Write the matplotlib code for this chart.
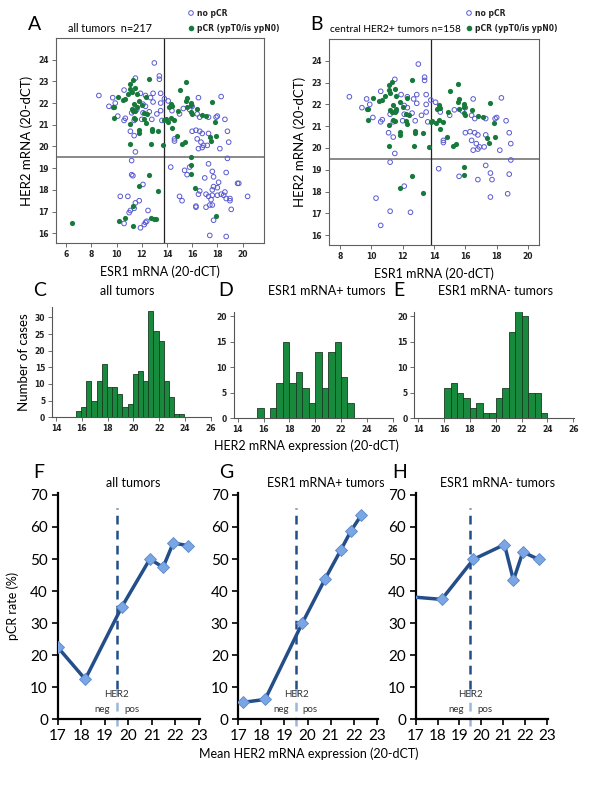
import matplotlib
matplotlib.use('Agg')
import matplotlib.pyplot as plt
import numpy as np

# ---------------- data ----------------
# scatter A/B : upper half (HER2 > 19.5) shared by both panels
up_open_x = [13.0, 13.4, 13.4, 11.5, 8.6, 9.7, 10.6, 9.4, 9.9, 10.1, 10.7, 10.6, 11.2, 12.3, 12.9, 12.7,
             11.9, 12.9, 13.5, 13.8, 14.1, 13.5, 13.5, 12.6, 12.1, 12.3, 12.1, 11.6, 12.0, 11.4, 12.8, 13.6,
             11.1, 11.4, 11.5, 13.2, 14.4, 15.0, 15.3, 15.8, 14.6, 14.6, 16.0, 16.5, 16.4, 16.6, 16.0, 16.3,
             16.6, 16.8, 16.4, 16.7, 16.9, 16.8, 16.5, 17.3, 17.9, 18.0, 18.3, 17.3, 18.6, 18.8, 18.9, 18.2, 17.2]
up_open_y = [23.85, 23.25, 23.1, 23.15, 22.35, 22.25, 22.6, 21.85, 22.0, 21.4, 21.3, 21.2, 21.55, 22.35, 22.45, 22.25,
             22.45, 22.05, 22.45, 22.2, 22.1, 21.65, 22.0, 21.6, 21.55, 21.85, 21.95, 21.7, 21.25, 21.2, 21.25, 21.2,
             20.7, 20.5, 19.75, 21.5, 21.65, 21.5, 21.75, 21.7, 20.35, 20.25, 21.85, 22.25, 21.5, 21.35, 20.7, 20.75,
             20.7, 20.6, 20.35, 20.2, 20.05, 19.95, 19.9, 21.35, 21.35, 21.4, 22.3, 20.6, 21.25, 20.7, 20.2, 19.9, 20.05]
up_fill_x = [12.6, 15.5, 11.3, 11.1, 11.1, 11.5, 11.2, 10.9, 10.7, 10.5, 10.1, 11.6, 12.3, 11.8, 12.0, 11.4,
             9.8, 9.7, 9.8, 11.3, 11.5, 11.6, 11.2, 12.2, 12.4, 11.4, 11.5, 12.2, 12.3, 11.1, 11.8, 11.8,
             12.8, 12.8, 13.3, 11.1, 12.7, 13.7, 13.9, 13.8, 14.3, 14.1, 14.6, 14.3, 14.4, 14.2, 15.0, 15.5,
             15.6, 15.9, 15.9, 15.6, 16.0, 15.9, 16.4, 14.9, 14.4, 15.2, 15.4, 14.8, 16.8, 17.1, 17.6, 17.8,
             17.4, 17.5, 17.9]
up_fill_y = [23.1, 22.95, 23.05, 22.9, 22.65, 22.7, 22.5, 22.4, 22.2, 22.15, 22.3, 22.4, 22.3, 22.1, 21.9, 21.95,
             21.8, 21.8, 21.3, 21.65, 21.65, 21.8, 21.75, 21.55, 21.5, 21.3, 21.25, 21.25, 21.1, 21.05, 20.75, 20.6,
             20.8, 20.7, 20.7, 20.1, 20.1, 20.05, 21.25, 21.2, 21.3, 21.15, 21.2, 21.95, 21.85, 21.8, 22.6, 22.1,
             22.25, 22.0, 21.9, 21.8, 21.5, 21.6, 21.75, 21.65, 20.85, 20.1, 20.2, 20.5, 21.45, 21.4, 22.05, 21.15,
             20.45, 20.25, 20.5]

# lower half, panel A
a_low_open_x = [11.2, 11.2, 11.3, 12.1, 10.3, 10.9, 11.8, 11.5, 11.1, 11.0, 11.4, 12.5, 10.6, 11.9, 12.2, 12.3,
                12.4, 14.3, 15.4, 15.6, 15.8, 17.3, 17.6, 17.0, 17.7, 18.8, 18.7, 18.1, 18.0, 17.6, 17.7, 16.6,
                16.5, 17.1, 17.3, 17.6, 18.0, 17.5, 17.1, 17.4, 17.6, 18.6, 18.5, 18.7, 19.0, 19.0, 19.7, 19.6,
                20.4, 19.1, 18.3, 15.0, 15.2, 16.3, 16.3, 17.7, 17.4, 18.7]
a_low_open_y = [19.35, 18.7, 18.65, 18.25, 17.7, 17.7, 17.5, 17.4, 17.05, 16.95, 17.15, 17.05, 16.45, 16.25, 16.4, 16.5,
                16.55, 19.05, 18.9, 18.7, 19.05, 19.2, 18.85, 18.55, 18.6, 19.45, 18.8, 18.35, 18.1, 18.0, 18.15, 17.95,
                17.8, 17.8, 17.7, 17.75, 17.75, 17.55, 17.2, 17.3, 17.3, 17.9, 17.75, 17.6, 17.5, 17.6, 18.3, 18.3,
                17.7, 17.1, 17.8, 17.7, 17.5, 17.2, 17.25, 16.6, 15.9, 15.85]
a_low_fill_x = [15.9, 15.9, 15.9, 16.2, 17.9, 12.6, 11.8, 13.3, 11.3, 6.5, 10.2, 10.7, 11.3, 12.7, 13.0, 13.1]
a_low_fill_y = [19.5, 19.15, 18.75, 18.1, 16.8, 18.7, 18.2, 17.95, 17.25, 16.45, 16.55, 16.7, 16.35, 16.7, 16.65, 16.65]

# lower half, panel B
b_low_open_x = [11.2, 10.3, 11.2, 12.5, 10.6, 12.1, 14.3, 15.6, 16.8, 17.3, 17.6, 17.7, 18.9, 18.8, 18.7, 17.6]
b_low_open_y = [19.35, 17.7, 17.1, 17.05, 16.45, 18.25, 19.05, 18.7, 18.55, 19.2, 18.85, 18.55, 19.45, 18.8, 17.9, 17.75]
b_low_fill_x = [15.9, 15.9, 12.6, 11.8, 13.3]
b_low_fill_y = [19.15, 18.75, 18.7, 18.15, 17.95]

# histograms
c_start, c_width = 15.55, 0.4
c_counts = [2, 3, 11, 5, 11, 16, 9, 9, 7, 3, 4, 13, 14, 11, 32, 26, 23, 11, 6, 1, 1]
d_start, d_width = 15.5, 0.5
d_counts = [2, 0, 2, 7, 15, 7, 9, 6, 3, 13, 6, 13, 15, 8, 3]
e_start, e_width = 16.0, 0.5
e_counts = [6, 7, 5, 4, 2, 3, 1, 1, 4, 6, 17, 21, 20, 5, 5, 1]

# pCR rate by mean HER2
f_x = [17.0, 18.17, 19.72, 20.92, 21.48, 21.91, 22.52]
f_y = [22.5, 12.5, 35.0, 50.0, 47.4, 55.0, 54.2]
g_x = [17.22, 18.16, 19.77, 20.76, 21.44, 21.88, 22.32]
g_y = [5.3, 6.2, 30.0, 43.8, 52.8, 58.8, 63.6]
h_x = [16.8, 18.19, 19.64, 21.06, 21.47, 21.9, 22.62]
h_y = [38.2, 37.4, 49.9, 54.5, 43.4, 52.2, 49.9]

W, H = 600, 789
fig = plt.figure(figsize=(6.0, 7.89), dpi=100)
plt.rcParams['font.family'] = ['Lato', 'DejaVu Sans']


def box(l, t, r, b):
    return [l / W, 1 - b / H, (r - l) / W, (b - t) / H]


def ftext(px, py, s, **kw):
    fig.text(px / W, 1 - py / H, s, **kw)


open_c = '#5a5ad2'
fill_c = '#177a3c'
spss_tick = dict(fontsize=5.5, fontweight='bold', family='DejaVu Sans', color='#222222')


def scatter_panel(rect, ox, oy, fx_, fy_, xticks, xlim, lab_x):
    ax = fig.add_axes(rect)
    ax.scatter(ox, oy, s=11, facecolors='none', edgecolors=open_c, linewidths=0.7, zorder=3)
    ax.scatter(fx_, fy_, s=14, color=fill_c, linewidths=0, zorder=4)
    ax.axhline(19.5, color='#808080', lw=1.3, zorder=2)
    ax.axvline(13.8, color='#222222', lw=0.9, zorder=2)
    ax.set_xlim(*xlim)
    ax.set_ylim(15.55, 25.0)
    ax.set_xticks(xticks)
    ax.set_yticks(range(16, 25))
    ax.tick_params(direction='out', length=3, width=0.6, color='#555555', pad=2)
    for lab in ax.get_xticklabels() + ax.get_yticklabels():
        lab.set(**spss_tick)
    for sp in ax.spines.values():
        sp.set_color('#606060')
        sp.set_linewidth(0.8)
    ax.set_xlabel('ESR1 mRNA (20-dCT)', fontsize=9)
    ax.set_ylabel('HER2 mRNA (20-dCT)', fontsize=9.5)
    ax.xaxis.set_label_coords(0.5, -0.11)
    ax.yaxis.set_label_coords(lab_x, 0.5)
    return ax


axA = scatter_panel(box(56, 38, 264, 243), up_open_x + a_low_open_x, up_open_y + a_low_open_y,
                    up_fill_x + a_low_fill_x, up_fill_y + a_low_fill_y, range(6, 21, 2), (5.2, 21.7), -0.11)
axB = scatter_panel(box(329, 39, 539, 245), up_open_x + b_low_open_x, up_open_y + b_low_open_y,
                    up_fill_x + b_low_fill_x, up_fill_y + b_low_fill_y, range(8, 21, 2), (7.3, 20.7), -0.11)

ftext(28, 25, 'A', fontsize=14, va='center')
ftext(68, 28, 'all tumors  n=217', fontsize=7.8, va='center')
ftext(310, 25, 'B', fontsize=14, va='center')
ftext(330, 29, 'central HER2+ tumors n=158', fontsize=7.3, va='center')

ax_l = fig.add_axes([0, 0, 1, 1], facecolor='none')
ax_l.set_xlim(0, W)
ax_l.set_ylim(H, 0)
ax_l.axis('off')
for lx in (191, 469):
    ax_l.scatter([lx], [13], s=11, facecolors='none', edgecolors=open_c, linewidths=0.7)
    ax_l.scatter([lx], [28], s=16, color=fill_c, linewidths=0)
    ax_l.text(lx + 6, 13, 'no pCR', fontsize=5.5, fontweight='bold', family='DejaVu Sans',
              va='center', color='#222222')
    ax_l.text(lx + 6, 28, 'pCR (ypT0/is ypN0)', fontsize=5.5, fontweight='bold', family='DejaVu Sans',
              va='center', color='#222222')


# ---------------- histograms ----------------
bar_c = '#178a3e'


def hist_panel(rect, start, width, counts, ylim, yticks):
    ax = fig.add_axes(rect)
    edges = start + width * np.arange(len(counts))
    ax.bar(edges, counts, width=width, align='edge', color=bar_c, edgecolor='#1c3a22', linewidth=0.6)
    ax.set_xlim(13.7, 26.05)
    ax.set_ylim(0, ylim)
    ax.set_xticks(range(14, 27, 2))
    ax.set_yticks(yticks)
    ax.spines['top'].set_visible(False)
    ax.spines['right'].set_visible(False)
    for sp in ('left', 'bottom'):
        ax.spines[sp].set_color('#555555')
        ax.spines[sp].set_linewidth(0.8)
    ax.tick_params(direction='out', length=3, width=0.6, color='#555555', pad=2)
    for lab in ax.get_xticklabels() + ax.get_yticklabels():
        lab.set(**spss_tick)
    return ax


axC = hist_panel(box(52.1, 306.7, 211.4, 417.3), c_start, c_width, c_counts, 33.2, range(0, 31, 5))
axC.set_ylabel('Number of cases', fontsize=9.5)
axC.yaxis.set_label_coords(-0.14, 0.5)
axD = hist_panel(box(233.8, 311.7, 393.3, 418.3), d_start, d_width, d_counts, 20.9, range(0, 21, 5))
axE = hist_panel(box(414.4, 311.7, 573.9, 418.3), e_start, e_width, e_counts, 20.9, range(0, 21, 5))

ftext(33, 291, 'C', fontsize=14, va='center')
ftext(127, 291, 'all tumors', fontsize=9, va='center', ha='center')
ftext(218, 291, 'D', fontsize=14, va='center')
ftext(268, 291, 'ESR1 mRNA+ tumors', fontsize=9, va='center')
ftext(393, 291, 'E', fontsize=14, va='center')
ftext(496, 291, 'ESR1 mRNA- tumors', fontsize=9, va='center', ha='center')
ftext(306, 446, 'HER2 mRNA expression (20-dCT)', fontsize=9, va='center', ha='center')

# ---------------- pCR rate ----------------
line_c = '#234e8a'
mark_c = '#7aa6e6'


def rate_panel(rect, x, y, neg_x, pos_x):
    ax = fig.add_axes(rect)
    ax.plot([19.5, 19.5], [9.5, 66], ls=(0, (3.5, 2.5)), color=line_c, lw=1.8, zorder=2)
    ax.plot([19.5, 19.5], [-2, 9.5], ls=(0, (3.5, 2.5)), color='#9bb7dc', lw=1.8, zorder=2, clip_on=False)
    ax.plot(x, y, color=line_c, lw=2.5, marker='D', markersize=6.5, markerfacecolor=mark_c,
            markeredgecolor='#5b88c8', markeredgewidth=0.6, zorder=3)
    ax.set_xlim(17, 23.05)
    ax.set_ylim(0, 70.5)
    ax.set_xticks(range(17, 24))
    ax.set_yticks(range(0, 71, 10))
    ax.spines['top'].set_visible(False)
    ax.spines['right'].set_visible(False)
    for sp in ('left', 'bottom'):
        ax.spines[sp].set_linewidth(1.6)
    ax.tick_params(direction='out', length=4, width=1.2, labelsize=11, pad=3)
    ax.text(19.5, 7.6, 'HER2', fontsize=7, ha='center', va='center', color='#333333', zorder=4)
    ax.text(neg_x, 3.2, 'neg', fontsize=7, ha='center', va='center', color='#333333')
    ax.text(pos_x, 3.2, 'pos', fontsize=7, ha='center', va='center', color='#333333')
    return ax


axF = rate_panel(box(57.7, 493.3, 200, 719.3), f_x, f_y, 18.87, 20.14)
axF.set_ylabel('pCR rate (%)', fontsize=9)
axF.yaxis.set_label_coords(-0.27, 0.5)
axG = rate_panel(box(238.3, 493.3, 378, 719.3), g_x, g_y, 18.84, 20.1)
axH = rate_panel(box(415.7, 493.3, 548, 719.3), h_x, h_y, 18.83, 20.18)

ftext(33, 472, 'F', fontsize=14, va='center')
ftext(133, 483, 'all tumors', fontsize=9, va='center', ha='center')
ftext(219, 472, 'G', fontsize=14, va='center')
ftext(267, 483, 'ESR1 mRNA+ tumors', fontsize=9, va='center')
ftext(392, 472, 'H', fontsize=14, va='center')
ftext(497, 483, 'ESR1 mRNA- tumors', fontsize=9, va='center', ha='center')
ftext(309, 754, 'Mean HER2 mRNA expression (20-dCT)', fontsize=9, va='center', ha='center')

fig.savefig('out.png', dpi=100)
